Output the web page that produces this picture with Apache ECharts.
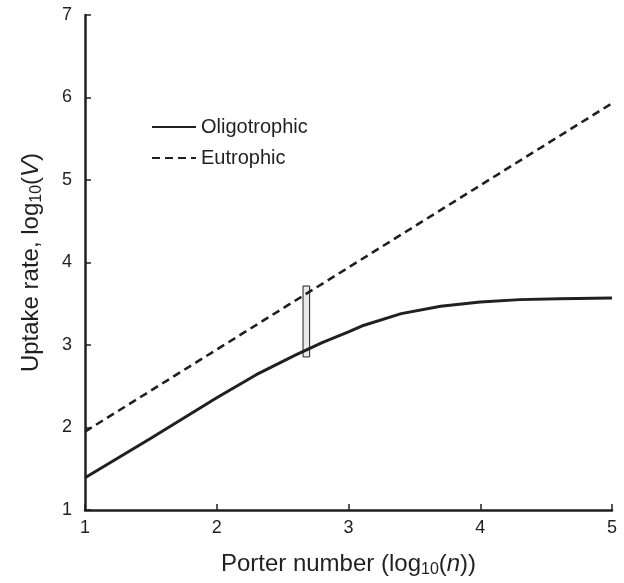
<!DOCTYPE html>
<html>
<head>
<meta charset="utf-8">
<script src="https://cdn.jsdelivr.net/npm/echarts@6/dist/echarts.min.js"></script>
<style>
  html, body { margin: 0; padding: 0; background: #fff; }
  #chart { width: 624px; height: 583px; }
</style>
</head>
<body>
<div id="chart"></div>
<script>
// porter number (log10 n) for each curve
const oligoX = [1, 1.5, 2, 2.3, 2.6, 2.8, 3, 3.1, 3.4, 3.7, 4, 4.3, 4.6, 5];
const oligoY = [1.39, 1.87, 2.36, 2.64, 2.88, 3.03, 3.16, 3.23, 3.38, 3.47, 3.52, 3.55, 3.56, 3.57];
const eutroX = [1, 5];
const eutroY = [1.95, 5.93];
// grey bar marking the observed range
const barX = [2.655, 2.705];
const barY = [2.855, 3.715];

const font = 'Liberation Sans, Arial, Helvetica, sans-serif';
const ink = '#231f20';
const chart = echarts.init(document.getElementById('chart'));

const pairs = (xs, ys) => xs.map((x, i) => [x, ys[i]]);

const nameStyle = {
  fontSize: 24,
  color: ink,
  rich: {
    sub: { fontSize: 16, padding: [12, 0, 0, 0], color: ink },
    it: { fontSize: 24, fontStyle: 'italic', color: ink },
  },
};

chart.setOption({
  animation: false,
  textStyle: { fontFamily: font, color: ink },
  grid: { left: 85, right: 12, top: 15, bottom: 73 },
  legend: {
    orient: 'vertical',
    left: 146,
    top: 112,
    itemWidth: 44,
    itemHeight: 14,
    itemGap: 11,
    itemStyle: { opacity: 0 },
    textStyle: { fontFamily: font, fontSize: 20, color: ink },
    data: ['Oligotrophic', 'Eutrophic'],
  },
  xAxis: {
    type: 'value',
    min: 1,
    max: 5,
    interval: 1,
    name: 'Porter number (log{sub|10}({it|n}))',
    nameLocation: 'middle',
    nameGap: 40,
    nameTextStyle: nameStyle,
    axisLine: { lineStyle: { color: ink, width: 2.5 } },
    axisTick: { inside: true, length: 6, lineStyle: { color: ink, width: 1.5 } },
    axisLabel: { fontSize: 18, color: ink, margin: 9 },
    splitLine: { show: false },
  },
  yAxis: {
    type: 'value',
    min: 1,
    max: 7,
    interval: 1,
    name: 'Uptake rate, log{sub|10}({it|V})',
    nameLocation: 'middle',
    nameGap: 40,
    nameTextStyle: nameStyle,
    axisLine: { show: true, lineStyle: { color: ink, width: 2.5 } },
    axisTick: { show: true, inside: true, length: 6, lineStyle: { color: ink, width: 1.5 } },
    axisLabel: { fontSize: 18, color: ink, margin: 13 },
    splitLine: { show: false },
  },
  series: [
    {
      name: 'Oligotrophic',
      type: 'line',
      symbol: 'none',
      data: pairs(oligoX, oligoY),
      lineStyle: { color: ink, width: 3 },
      itemStyle: { color: ink },
      z: 3,
    },
    {
      name: 'Eutrophic',
      type: 'line',
      symbol: 'none',
      data: pairs(eutroX, eutroY),
      lineStyle: { color: ink, width: 2.6, type: [8, 5] },
      itemStyle: { color: ink },
      z: 3,
      markArea: {
        silent: true,
        itemStyle: { color: '#e9e9e9', borderColor: ink, borderWidth: 1 },
        data: [[{ coord: [barX[0], barY[0]] }, { coord: [barX[1], barY[1]] }]],
      },
    },
  ],
});
</script>
</body>
</html>
